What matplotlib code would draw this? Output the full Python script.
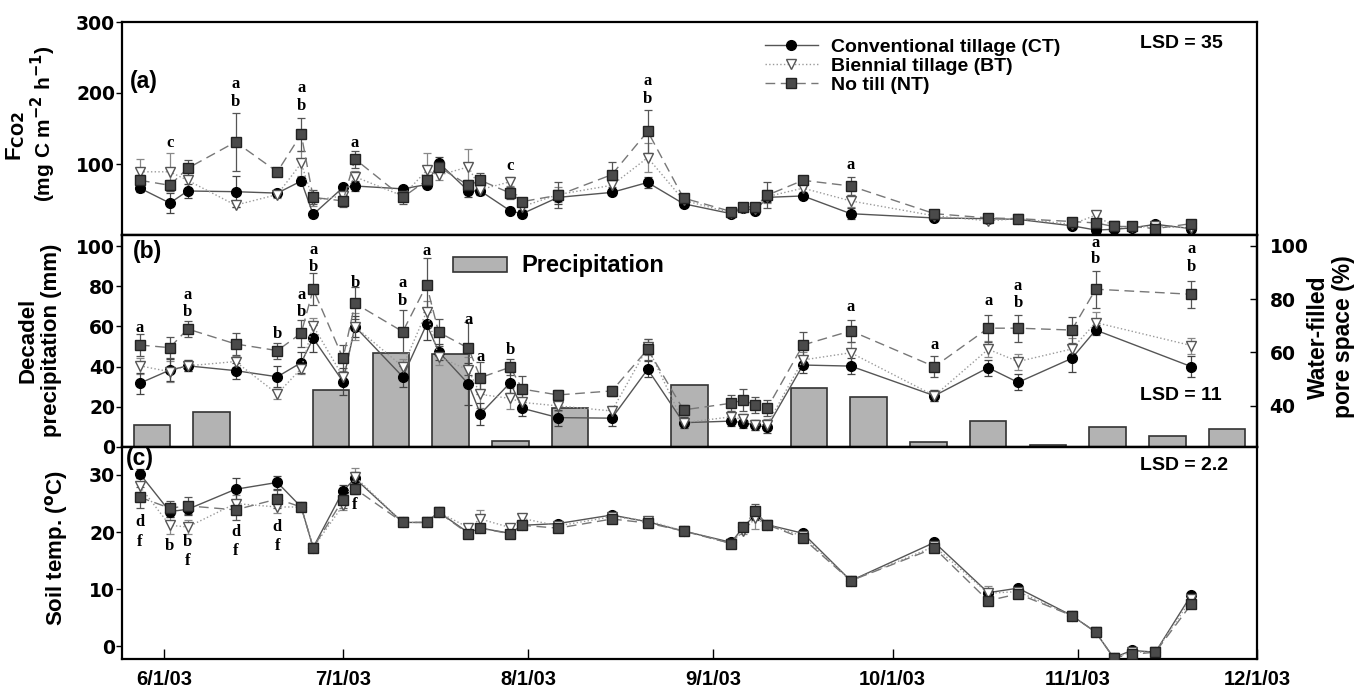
import numpy as np
import matplotlib
matplotlib.use('Agg')
import matplotlib.pyplot as plt
import matplotlib.dates as mdates

plt.rcParams['font.family'] = ['Liberation Sans', 'DejaVu Sans']
plt.rcParams['font.weight'] = 'bold'
plt.rcParams['mathtext.default'] = 'bf'

# sampling dates
dates = np.array(['2003-05-28', '2003-06-02', '2003-06-05', '2003-06-13', '2003-06-20', '2003-06-24',
                  '2003-06-26', '2003-07-01', '2003-07-03', '2003-07-11', '2003-07-15', '2003-07-17',
                  '2003-07-22', '2003-07-24', '2003-07-29', '2003-07-31', '2003-08-06', '2003-08-15',
                  '2003-08-21', '2003-08-27', '2003-09-04', '2003-09-06', '2003-09-08', '2003-09-10',
                  '2003-09-16', '2003-09-24', '2003-10-08', '2003-10-17', '2003-10-22', '2003-10-31',
                  '2003-11-04', '2003-11-07', '2003-11-10', '2003-11-14', '2003-11-20'], dtype='datetime64[D]')

# (a) CO2 flux
fco2_ct = [66, 45, 62, 61, 59, 76, 29, 67, 69, 65, 71, 102, 62, 62, 34, 30, 53, 60, 74, 44,
           30, 38, 34, 53, 55, 30, 24, 23, 22, 13, 7, 8, 10, 15, 9]
fco2_bt = [89, 89, 77, 42, 57, 101, 49, 55, 82, 55, 91, 84, 96, 64, 75, 40, 57, 70, 109, 49,
           31, 38, 36, 54, 66, 48, 27, 20, 23, 15, 28, 12, 11, 12, 10]
fco2_nt = [77, 70, 94, 131, 89, 142, 53, 48, 107, 53, 77, 96, 70, 77, 59, 47, 56, 85, 146, 52,
           33, 39, 40, 56, 77, 69, 30, 24, 23, 19, 17, 12, 12, 9, 16]
fco2_ct_err = [5, 14, 10, 22, 5, 6, 3, 4, 7, 3, 4, 8, 8, 6, 3, 5, 9, 4, 8, 3,
               3, 3, 3, 6, 3, 8, 3, 3, 3, 3, 3, 3, 3, 3, 3]
fco2_bt_err = [18, 27, 12, 3, 5, 18, 8, 5, 8, 5, 24, 6, 25, 6, 6, 5, 10, 5, 20, 3,
               3, 3, 3, 9, 5, 8, 3, 3, 3, 3, 5, 3, 3, 3, 3]
fco2_nt_err = [8, 8, 12, 41, 4, 23, 10, 8, 12, 10, 8, 8, 8, 10, 8, 5, 18, 18, 30, 6,
               3, 3, 5, 18, 5, 12, 4, 3, 3, 3, 3, 3, 3, 3, 3]

# (b) water-filled pore space (nan = not measured)
nan = np.nan
wfps_ct = [48.5, 53.4, 55, 53.2, 50.9, 56.2, 65.3, 49.1, 69.7, 50.9, 70.6, 60.3, 48.2, 37, 48.7, 39.1, 35.6, 35.4,
           53.7, 33.7, 34.3, 33.7, 32.8, 32, 55.3, 54.9, 43.8, 54.3, 48.8, 57.8, 68.4, nan, nan, nan, 54.7]
wfps_bt = [55, 52.8, 55, 56.6, 44.5, 54, 70, 50.9, 69.7, 54.7, 75.3, 58.4, 53.4, 44.3, 42.8, 41.3, 40, 38.1,
           62, 33.7, 35.9, 34.9, 32.8, 33, 57.2, 59.9, 43.8, 61.2, 56.6, 61.3, 71.2, nan, nan, nan, 62.6]
wfps_nt = [62.8, 61.8, 68.8, 63.2, 60.7, 67.2, 83.7, 57.8, 78.4, 67.8, 85.3, 67.6, 61.6, 50.6, 54.5, 46.3, 44.1, 45.6,
           61.2, 38.5, 41, 42.2, 40.3, 39.1, 62.8, 68.1, 54.7, 69.1, 69.1, 68.4, 83.7, nan, nan, nan, 81.8]
wfps_ct_err = [4, 4, 2, 3, 4, 4, 5, 5, 4, 4, 6, 3, 8, 4, 4, 3, 3, 3, 3, 2, 2, 2, 2, 2, 3, 3, 2, 3, 3, 5, 2,
               nan, nan, nan, 4]
wfps_bt_err = [3, 4, 2, 2, 2, 2, 3, 2, 5, 3, 4, 3, 5, 5, 4, 3, 2, 2, 3, 2, 2, 2, 2, 2, 3, 4, 2, 3, 3, 4, 4,
               nan, nan, nan, 3]
wfps_nt_err = [4, 4, 3, 4, 3, 5, 6, 5, 6, 8, 10, 5, 10, 6, 3, 5, 2, 2, 4, 2, 3, 4, 3, 3, 5, 4, 4, 5, 5, 5, 7,
               nan, nan, nan, 5]

# (b) decadal precipitation
precip_dates = np.array(['2003-05-30', '2003-06-09', '2003-06-19', '2003-06-29', '2003-07-09', '2003-07-19',
                         '2003-07-29', '2003-08-08', '2003-08-18', '2003-08-28', '2003-09-07', '2003-09-17',
                         '2003-09-27', '2003-10-07', '2003-10-17', '2003-10-27', '2003-11-06', '2003-11-16',
                         '2003-11-26'], dtype='datetime64[D]')
precip = [10.9, 17.3, 0, 28.4, 46.6, 46.1, 3.0, 19.6, 0, 30.8, 0, 29.5, 25.0, 2.3, 13.1, 1.0, 10.1, 5.5, 9.0]

# (c) soil temperature
temp_ct = [30.2, 23.6, 24.0, 27.5, 28.7, 24.4, 17.3, 27.2, 29.4, 21.7, 21.7, 23.5, 19.9, 20.7, 19.8, 21.2, 21.5, 23.0,
           21.8, 20.2, 18.2, 20.9, 23.0, 21.3, 19.8, 11.5, 18.2, 9.4, 10.2, 5.4, 2.5, -2.0, -0.7, -1.0, 9.0]
temp_bt = [28.0, 21.2, 20.9, 25.0, 24.4, 24.4, 17.3, 24.7, 29.7, 21.7, 21.7, 23.5, 20.8, 22.3, 20.8, 22.4, 21.1, 22.7,
           22.0, 20.2, 18.0, 20.2, 22.4, 21.3, 19.3, 11.5, 17.5, 9.3, 9.6, 5.4, 2.5, -2.0, -1.0, -1.0, 8.3]
temp_nt = [26.1, 24.2, 24.6, 23.9, 25.8, 24.4, 17.3, 25.7, 27.6, 21.7, 21.7, 23.5, 19.7, 20.7, 19.7, 21.2, 20.7, 22.3,
           21.6, 20.2, 18.0, 20.9, 23.7, 21.3, 18.9, 11.5, 17.2, 8.0, 9.2, 5.4, 2.5, -2.0, -1.4, -1.0, 7.4]
temp_ct_err = [0.8, 1.0, 1.0, 2.0, 1.2, 0.5, 0.4, 1.0, 1.2, 0.4, 0.4, 0.4, 0.4, 0.4, 0.4, 0.4, 0.4, 0.4,
               0.4, 0.4, 0.4, 0.4, 0.8, 0.4, 0.4, 0.4, 0.4, 0.6, 0.4, 0.4, 0.4, 0.4, 0.4, 0.4, 0.4]
temp_bt_err = [1.5, 1.5, 1.2, 1.5, 1.0, 0.5, 0.4, 0.8, 1.5, 0.4, 0.4, 0.4, 0.6, 1.5, 0.6, 0.6, 0.4, 0.6,
               0.4, 0.4, 0.4, 0.6, 1.8, 0.4, 0.4, 0.4, 0.4, 1.2, 0.4, 0.4, 0.4, 0.4, 0.4, 0.4, 0.4]
temp_nt_err = [1.8, 1.2, 1.5, 1.8, 1.5, 0.5, 0.4, 1.5, 1.0, 0.4, 0.4, 0.4, 0.4, 0.4, 0.4, 0.4, 0.4, 0.4,
               0.4, 0.4, 0.4, 0.4, 1.2, 0.4, 0.4, 0.4, 0.4, 0.6, 0.4, 0.4, 0.4, 0.4, 0.4, 0.4, 0.4]

# significance letters: (date index, letter, y)
letters_a = [(1, 'c', 130), (3, 'a', 213), (3, 'b', 187), (5, 'a', 207), (5, 'b', 181), (8, 'a', 129),
             (14, 'c', 97), (18, 'a', 217), (18, 'b', 191), (25, 'a', 99)]
letters_b = [(0, 'a', 69), (2, 'a', 81.5), (2, 'b', 75), (4, 'b', 66.8), (5, 'a', 81.5), (5, 'b', 75.3),
             (6, 'a', 98.5), (6, 'b', 92), (8, 'b', 85.9), (9, 'a', 85.9), (9, 'b', 79.4), (10, 'a', 98.1),
             (12, 'a', 72.2), (13, 'a', 58.4), (14, 'b', 60.9), (25, 'a', 77.2), (26, 'a', 62.8),
             (27, 'a', 79.3), (28, 'a', 84.9), (28, 'b', 78.4), (30, 'a', 100.9), (30, 'b', 94.9),
             (34, 'a', 98.6), (34, 'b', 92.1)]
letters_c = [(0, 'd', 21.8), (0, 'f', 18.3), (1, 'b', 17.5), (2, 'b', 18.3), (2, 'f', 15.0),
             (3, 'd', 20.1), (3, 'f', 16.7), (4, 'd', 20.9), (4, 'f', 17.6), (8, 'f', 24.7)]

labels = ['Conventional tillage (CT)', 'Biennial tillage (BT)', 'No till (NT)']
styles = [dict(ls='-', color='#555555', marker='o', mfc='black', mec='black', ms=7),
          dict(ls=':', color='#9a9a9a', marker='v', mfc='white', mec='#555555', ms=7, mew=1.0),
          dict(ls=(0, (7, 4)), color='#777777', marker='s', mfc='#4a4a4a', mec='#222222', ms=6.5)]
err_colors = ['#444444', '#888888', '#555555']

fig = plt.figure(figsize=(13.67, 6.91), dpi=100)
L, W = 122 / 1367, 1135 / 1367
ax_a = fig.add_axes([L, 1 - 235 / 691, W, 213 / 691])
ax_b = fig.add_axes([L, 1 - 447 / 691, W, 212 / 691], sharex=ax_a)
ax_c = fig.add_axes([L, 1 - 659 / 691, W, 212 / 691], sharex=ax_a)
ax_b2 = ax_b.twinx()


def draw_series(ax, series, errs, zbase=3):
    handles = []
    for k in [1, 2, 0]:
        y = np.array(series[k], dtype=float)
        e = np.array(errs[k], dtype=float)
        ok = np.isfinite(y)
        ax.errorbar(dates[ok], y[ok], yerr=e[ok], fmt='none', ecolor=err_colors[k],
                    elinewidth=0.9, capsize=3, capthick=0.9, zorder=zbase)
        h, = ax.plot(dates[ok], y[ok], lw=1.0, zorder=zbase + 1 + k * 0.1, label=labels[k], **styles[k])
        handles.append((k, h))
    handles.sort()
    return [h for _, h in handles]


def draw_letters(ax, letters):
    for i, s, y in letters:
        ax.text(dates[i], y, s, ha='center', va='center', fontsize=12,
                family='Liberation Serif', fontweight='bold', zorder=6)


def yticks(ax, ticks):
    ax.set_yticks(ticks, [str(t) for t in ticks], fontfamily='DejaVu Sans',
                  fontsize=13.5, fontweight='bold')


# panel (a)
hs = draw_series(ax_a, [fco2_ct, fco2_bt, fco2_nt], [fco2_ct_err, fco2_bt_err, fco2_nt_err])
draw_letters(ax_a, letters_a)
ax_a.set_ylim(0, 300)
yticks(ax_a, [100, 200, 300])
ax_a.legend(handles=hs, loc='upper left', bbox_to_anchor=(0.5597, 0.96), frameon=False,
            fontsize=14, handlelength=2.7, labelspacing=0.08, handletextpad=0.67,
            borderaxespad=0)
ax_a.text(0.007, 0.72, '(a)', transform=ax_a.transAxes, fontsize=16.5, va='center')
ax_a.text(0.897, 0.90, 'LSD = 35', transform=ax_a.transAxes, fontsize=14, va='center')

# panel (b)
bars = ax_b.bar(precip_dates, precip, width=6.1, color='#b3b3b3', edgecolor='#333333',
                linewidth=1.2, zorder=2, label='Precipitation')
ax_b.set_ylim(0, 105.5)
yticks(ax_b, [0, 20, 40, 60, 80, 100])
draw_series(ax_b2, [wfps_ct, wfps_bt, wfps_nt], [wfps_ct_err, wfps_bt_err, wfps_nt_err])
draw_letters(ax_b2, letters_b)
ax_b2.set_ylim(24.6, 104)
yticks(ax_b2, [40, 60, 80, 100])
ax_b2.legend(handles=[bars], loc='center left', bbox_to_anchor=(0.2834, 0.854), frameon=False,
             fontsize=17, handlelength=2.3, handleheight=0.6, handletextpad=0.58, borderaxespad=0)
ax_b.text(0.0095, 0.92, '(b)', transform=ax_b.transAxes, fontsize=16.5, va='center')
ax_b2.text(0.897, 0.242, 'LSD = 11', transform=ax_b.transAxes, fontsize=14, va='center')

# panel (c)
draw_series(ax_c, [temp_ct, temp_bt, temp_nt], [temp_ct_err, temp_bt_err, temp_nt_err])
draw_letters(ax_c, letters_c)
ax_c.set_ylim(-2.2, 34.9)
yticks(ax_c, [0, 10, 20, 30])
ax_c.text(0.0035, 0.948, '(c)', transform=ax_c.transAxes, fontsize=16.5, va='center')
ax_c.text(0.897, 0.915, 'LSD = 2.2', transform=ax_c.transAxes, fontsize=14, va='center')

# x axis
ax_c.set_xlim(np.datetime64('2003-05-25'), np.datetime64('2003-12-01'))
ax_c.xaxis.set_major_locator(mdates.MonthLocator())
ax_c.xaxis.set_major_formatter(plt.FuncFormatter(
    lambda v, p: '{}/{}/{}'.format(mdates.num2date(v).month, mdates.num2date(v).day,
                                   mdates.num2date(v).strftime('%y'))))

for ax in [ax_a, ax_b, ax_c, ax_b2]:
    for sp in ax.spines.values():
        sp.set_linewidth(1.6)
for ax in [ax_a, ax_b]:
    ax.tick_params(axis='x', bottom=False, labelbottom=False)
for ax in [ax_a, ax_b, ax_c]:
    ax.tick_params(axis='y', direction='out', length=4, width=1, pad=1)
ax_c.tick_params(axis='x', direction='in', length=7, width=1, pad=8, labelsize=14.5)
ax_b2.tick_params(axis='y', direction='in', length=5, width=1, pad=9)

# axis titles
fig.text(16 / 1367, 1 - 136 / 691, 'F$_{\\mathbf{CO2}}$', rotation=90, ha='center', va='center', fontsize=16)
fig.text(43 / 1367, 1 - 124 / 691, '(mg C m$^{\\mathbf{-2}}$ h$^{\\mathbf{-1}}$)', rotation=90,
         ha='center', va='center', fontsize=15)
fig.text(40 / 1367, 1 - 340 / 691, 'Decadel\nprecipitation (mm)', rotation=90, ha='center',
         va='center', fontsize=16, linespacing=1.15)
fig.text(57 / 1367, 1 - 548 / 691, 'Soil temp. ($^{\\mathbf{o}}$C)', rotation=90, ha='center',
         va='center', fontsize=16)
fig.text(1331 / 1367, 1 - 337 / 691, 'Water-filled\npore space (%)', rotation=90, ha='center',
         va='center', fontsize=16.5, linespacing=1.1)

fig.savefig('out.png', dpi=100)
